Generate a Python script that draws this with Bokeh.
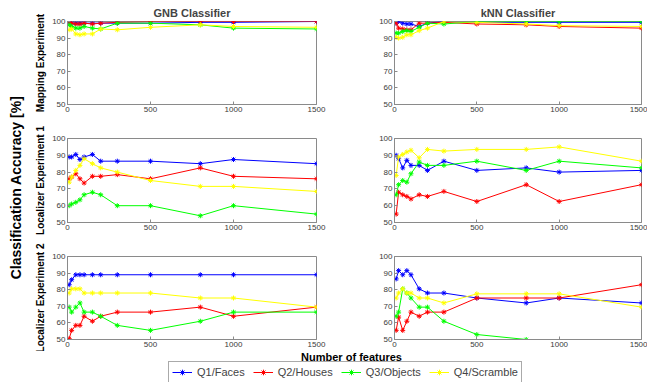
import math
from bokeh.plotting import figure
from bokeh.layouts import row, column
from bokeh.models import Range1d, FixedTicker, Label, Legend, LegendItem
from bokeh.embed import file_html
from bokeh.resources import INLINE

# ---------------- data ----------------
features = [10, 25, 50, 75, 100, 150, 200, 300, 500, 800, 1000, 1500]
categories = ["Q1/Faces", "Q2/Houses", "Q3/Objects", "Q4/Scramble"]
x_ticks = [0, 500, 1000, 1500]
y_ticks = [50, 60, 70, 80, 90, 100]

gnb_map_q1 = [99.5, 99, 99, 99, 99, 99, 99, 99, 99, 99.5, 99.5, 100]
gnb_map_q2 = [100, 99, 98.5, 98.5, 99, 98.5, 99, 99.5, 100, 100, 100, 100]
gnb_map_q3 = [98, 97, 96, 96, 97, 96, 95.5, 99, 99, 98, 96, 95.5]
gnb_map_q4 = [95, 95.5, 92.5, 92, 92.5, 92.5, 95.5, 95, 96.5, 98, 97, 96.5]

knn_map_q1 = [99, 100, 99, 98.5, 98.5, 97, 99, 100, 99.5, 99.5, 99.5, 99.5]
knn_map_q2 = [99, 96, 95.5, 95, 95, 99, 99, 99.5, 98.5, 98, 97, 96]
knn_map_q3 = [93, 93, 94, 94.5, 94, 96.5, 99, 98.5, 100, 100, 100, 100]
knn_map_q4 = [90.5, 90, 90.5, 92, 92, 94.5, 96, 100, 99.5, 98.5, 97.5, 97]

gnb_loc1_q1 = [89, 89, 90.5, 87.5, 89, 90.5, 86.5, 86.5, 86.5, 85, 87.5, 85]
gnb_loc1_q2 = [76, 77, 79, 76, 73.5, 77.5, 77.5, 78.5, 76, 82.5, 77.5, 76]
gnb_loc1_q3 = [60, 61, 62, 63.5, 66.5, 68, 66.5, 60, 60, 54, 60, 55]
gnb_loc1_q4 = [74, 77, 81, 84, 88, 85, 82.5, 80, 75, 71.5, 71.5, 68.5]

knn_loc1_q1 = [90, 88, 82.5, 87, 84, 84, 81, 86.5, 81, 82.5, 80, 81]
knn_loc1_q2 = [55, 68, 66.5, 65.5, 64, 66.5, 65.5, 68.5, 62.5, 72.5, 62.5, 72.5]
knn_loc1_q3 = [66.5, 72.5, 75, 74, 79, 86, 84, 84, 86.5, 81, 86.5, 82.5]
knn_loc1_q4 = [78, 89, 90.5, 92, 93, 88.5, 93.5, 92.5, 93.5, 93.5, 95, 86.5]

gnb_loc2_q1 = [83, 86, 89, 89, 89, 89, 89, 89, 89, 89, 89, 89]
gnb_loc2_q2 = [50.5, 55.5, 58.5, 58.5, 64, 61, 64, 66.5, 66.5, 69.5, 64, 69.5]
gnb_loc2_q3 = [69.5, 66.5, 69.5, 72, 66.5, 66.5, 64, 58.5, 55.5, 61, 66.5, 66.5]
gnb_loc2_q4 = [78, 80.5, 80.5, 80.5, 78, 78, 78, 78, 78, 75, 75, 69.5]

knn_loc2_q1 = [86.5, 91.5, 89, 91.5, 89, 80.5, 78, 78, 75, 72, 75, 72]
knn_loc2_q2 = [55.5, 63.5, 55.5, 61, 66.5, 64, 66.5, 66.5, 75, 75, 75, 83]
knn_loc2_q3 = [64, 66.5, 80.5, 78, 75, 69.5, 69.5, 61, 53, 50, 47, 44]
knn_loc2_q4 = [75, 78, 80.5, 78, 78, 75, 75, 72, 77.5, 77.5, 77.5, 69.5]

row_labels = ["Mapping Experiment", "Localizer Experiment 1", "Localizer Experiment 2"]
col_titles = ["GNB Classifier", "kNN Classifier"]

# ---------------- style ----------------
FONT = "Liberation Sans"
colors = ["#0000ff", "#ff0000", "#00ff00", "#ffff00"]
AX = "#8a8a8a"


def make_panel(series, width, height, bl, br, bt, bb, title=None, ylabel=None):
    p = figure(width=width, height=height, output_backend="svg", toolbar_location=None,
               x_range=Range1d(0, 1500), y_range=Range1d(50, 100),
               min_border_left=bl, min_border_right=br,
               min_border_top=bt, min_border_bottom=bb)
    p.xgrid.visible = False
    p.ygrid.visible = False
    p.outline_line_color = AX
    p.background_fill_color = "white"
    p.border_fill_color = "white"
    p.xaxis.ticker = FixedTicker(ticks=x_ticks)
    p.yaxis.ticker = FixedTicker(ticks=y_ticks)
    for ax in (p.xaxis[0], p.yaxis[0]):
        ax.axis_line_color = AX
        ax.major_tick_line_color = AX
        ax.minor_tick_line_color = None
        ax.major_tick_in = 3
        ax.major_tick_out = 0
        ax.major_label_text_font = FONT
        ax.major_label_text_font_size = "8px"
        ax.major_label_text_color = "#3a3a3a"
        ax.major_label_standoff = 2
    if ylabel:
        p.yaxis.axis_label = ylabel
        p.yaxis.axis_label_text_font = FONT
        p.yaxis.axis_label_text_font_size = "10px"
        p.yaxis.axis_label_text_font_style = "bold"
        p.yaxis.axis_label_text_color = "black"
        p.yaxis.axis_label_standoff = 3
    if title:
        p.title.text = title
        p.title.align = "center"
        p.title.text_font = FONT
        p.title.text_font_size = "11px"
        p.title.text_font_style = "bold"
        p.title.standoff = 6
        p.title.offset = 0
    for vals, c in zip(series, colors):
        p.line(features, vals, line_color=c, line_width=1)
        p.scatter(features, vals, marker="asterisk", size=5, line_color=c, line_width=1)
    return p


LAB_W, LW, RW = 28, 327, 292
heights = [120, 117, 114]
tops = [21, 18, 19]
bottoms = [16, 15, 12]

data = [
    ([gnb_map_q1, gnb_map_q2, gnb_map_q3, gnb_map_q4],
     [knn_map_q1, knn_map_q2, knn_map_q3, knn_map_q4]),
    ([gnb_loc1_q1, gnb_loc1_q2, gnb_loc1_q3, gnb_loc1_q4],
     [knn_loc1_q1, knn_loc1_q2, knn_loc1_q3, knn_loc1_q4]),
    ([gnb_loc2_q1, gnb_loc2_q2, gnb_loc2_q3, gnb_loc2_q4],
     [knn_loc2_q1, knn_loc2_q2, knn_loc2_q3, knn_loc2_q4]),
]

rows = []
for i, (left, right) in enumerate(data):
    pl = make_panel(left, LW, heights[i], 39, 39, tops[i], bottoms[i],
                    title=col_titles[0] if i == 0 else None, ylabel=row_labels[i])
    pr = make_panel(right, RW, heights[i], 39, 6, tops[i], bottoms[i],
                    title=col_titles[1] if i == 0 else None)
    rows.append(row(pl, pr))

# big y label column
total_h = sum(heights)
lab = figure(width=LAB_W, height=total_h, output_backend="svg", toolbar_location=None,
             x_range=Range1d(0, 1), y_range=Range1d(0, 1), x_axis_type=None, y_axis_type=None,
             min_border=0)
lab.outline_line_color = None
lab.xgrid.visible = False
lab.ygrid.visible = False
lab.add_layout(Label(x=15, y=total_h - 187, x_units="screen", y_units="screen",
                     text="Classification Accuracy [%]", angle=math.pi / 2,
                     text_align="center", text_baseline="middle",
                     text_font=FONT, text_font_size="14px", text_font_style="bold",
                     text_color="black"))

# footer with x label and legend
FOOT_H = 382 - total_h
foot = figure(width=LAB_W + LW + RW, height=FOOT_H, output_backend="svg", toolbar_location=None,
              x_range=Range1d(0, 1), y_range=Range1d(0, 1), x_axis_type=None, y_axis_type=None,
              min_border=0)
foot.outline_line_color = None
foot.xgrid.visible = False
foot.ygrid.visible = False
foot.add_layout(Label(x=351, y=FOOT_H + 1, x_units="screen", y_units="screen",
                      text="Number of features", text_align="center", text_baseline="top",
                      text_font=FONT, text_font_size="11px", text_font_style="bold",
                      text_color="black"))
legend_series = [gnb_map_q1, gnb_map_q2, gnb_map_q3, gnb_map_q4]
items = []
for name, c, vals in zip(categories, colors, legend_series):
    # drawn outside the footer's visible range: only their legend glyphs show
    r1 = foot.line(features, vals, line_color=c, line_width=1)
    r2 = foot.scatter(features, vals, marker="asterisk", size=5, line_color=c)
    items.append(LegendItem(label=name, renderers=[r1, r2]))
leg = Legend(items=items, orientation="horizontal", location=(168, -1),
             glyph_width=20, glyph_height=14, label_height=14, label_standoff=5,
             spacing=8, padding=3, margin=0,
             label_text_font=FONT, label_text_font_size="11px",
             border_line_color="#555555", border_line_width=1,
             background_fill_color="white", background_fill_alpha=1)
foot.add_layout(leg)

layout = column(row(lab, column(*rows)), foot)

open("out.html", "w").write(file_html(layout, INLINE))
